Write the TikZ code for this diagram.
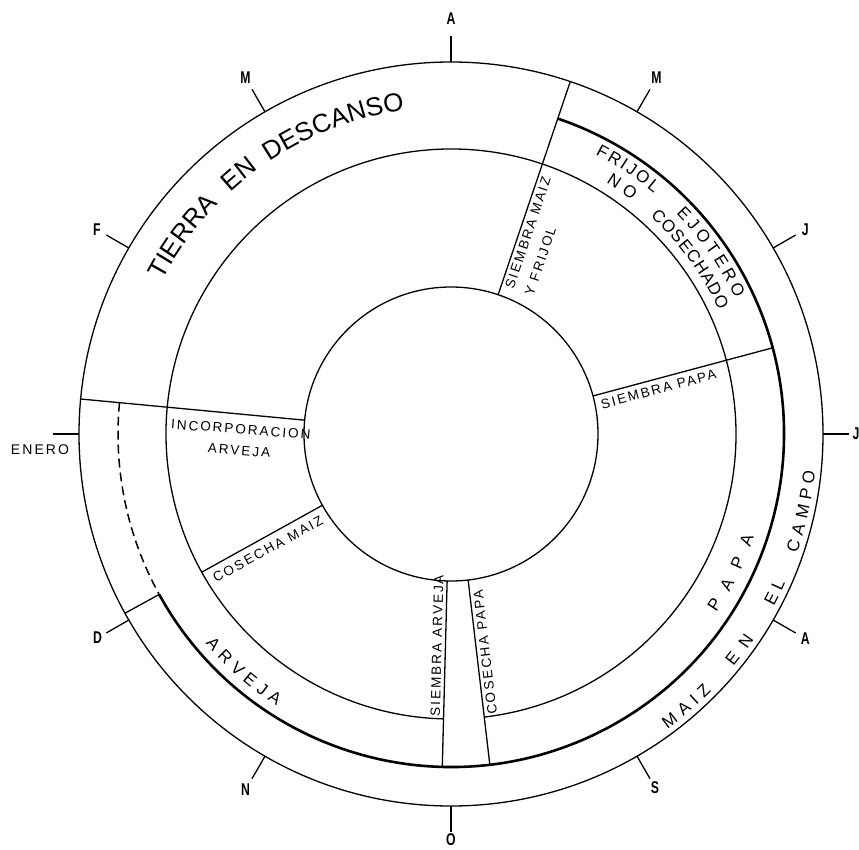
\documentclass[tikz,border=0pt]{standalone}
\usepackage{fontspec}
\setmainfont{Liberation Sans}
\newfontfamily\spacedfont[LetterSpace=15]{Liberation Sans}
\newfontfamily\monthfont[FakeStretch=0.72]{Liberation Sans}
\usetikzlibrary{decorations.text}
\newcommand\arcfont[1]{\fontsize{#1}{#1}\selectfont}

\begin{document}
\begin{tikzpicture}[x=1pt,y=1pt,line width=1.3pt,
  smalltext/.style={font=\spacedfont\fontsize{13.5}{21}\selectfont,inner sep=3pt},
  monthtext/.style={font=\monthfont\bfseries\fontsize{17}{17}\selectfont,inner sep=0pt}]
\useasboundingbox (-451,-415) rectangle (408,434);
\draw (0,0) circle[radius=147] (0,0) circle[radius=372];
\draw (-83.3:285) arc[start angle=-83.3,end angle=268.5,radius=285];
\draw[line width=2.6pt] (208.8:333) arc[start angle=208.8,end angle=431.3,radius=333];
\draw[dash pattern=on 9pt off 5pt,line width=1.5pt] (174.6:333) arc[start angle=174.6,end angle=208.8,radius=333];
\foreach \ang/\from/\to in {71.3/147/372,174.6/147/372,15/147/333,-83.3/147/333,-91.5/147/333,209/147/285,208.8/333/372}
  \draw (\ang:\from) -- (\ang:\to);
\foreach \ang/\mon/\rad [count=\i] in {150/F/409,120/M/411,90/A/415,60/M/411,30/J/409,0/J/405,-30/A/409,-60/S/408,-90/O/406,-120/N/411,-150/D/408}{
  \draw (\ang:372) -- (\ang:398);
  \node[monthtext] (mes\i) at (\ang:\rad) {\mon};
}
\draw (180:372) -- (180:398);
\node[font=\spacedfont\fontsize{14}{14}\selectfont,inner sep=0pt] (enero) at (-411,-16) {ENERO};
\foreach \rad/\from/\to/\size/\word in {327/152/135.4/26/TIERRA,327/132.5/126/26/EN,327/123.7/99.8/26/DESCANSO,
  315/62.7/49.9/17/FRIJOL,315/44.4/25.5/17/EJOTERO,295/58.3/52.2/17/NO,295/47.5/24.8/17/COSECHADO,
  320/-34/-18.8/17/PAPA,323/220.5/237.3/17/ARVEJA,
  366/-53.7/-44.6/17/MAIZ,366/-39.5/-34.1/17/EN,366/-28.1/-24/17/EL,366/-19/-5.8/17/CAMPO}
  \path[decorate,decoration={text along path,text align={fit to path},
    text/.expanded={|\noexpand\arcfont{\size}|\word}}] (\from:\rad) arc[start angle=\from,end angle=\to,radius=\rad];
\node[smalltext,anchor=north west,rotate=71.3,align=left] (smaiz) at (71.3:153) {SIEMBRA MAIZ\\Y FRIJOL};
\node[smalltext,anchor=north west,rotate=15,inner sep=5pt] (spapa) at (15:147) {SIEMBRA PAPA};
\node[smalltext,anchor=north west,rotate=96.7] (cpapa) at (-83.3:287) {COSECHA PAPA};
\node[smalltext,anchor=south west,rotate=88.5] (sarveja) at (-91.5:286) {SIEMBRA ARVEJA};
\node[smalltext,anchor=north west,rotate=28.5,inner sep=6pt] (cmaiz) at (209:284) {COSECHA MAIZ};
\node[smalltext,rotate=-4.5,align=center] (incorp) at (-211,-6) {INCORPORACION\\ARVEJA};
\end{tikzpicture}
\end{document}
